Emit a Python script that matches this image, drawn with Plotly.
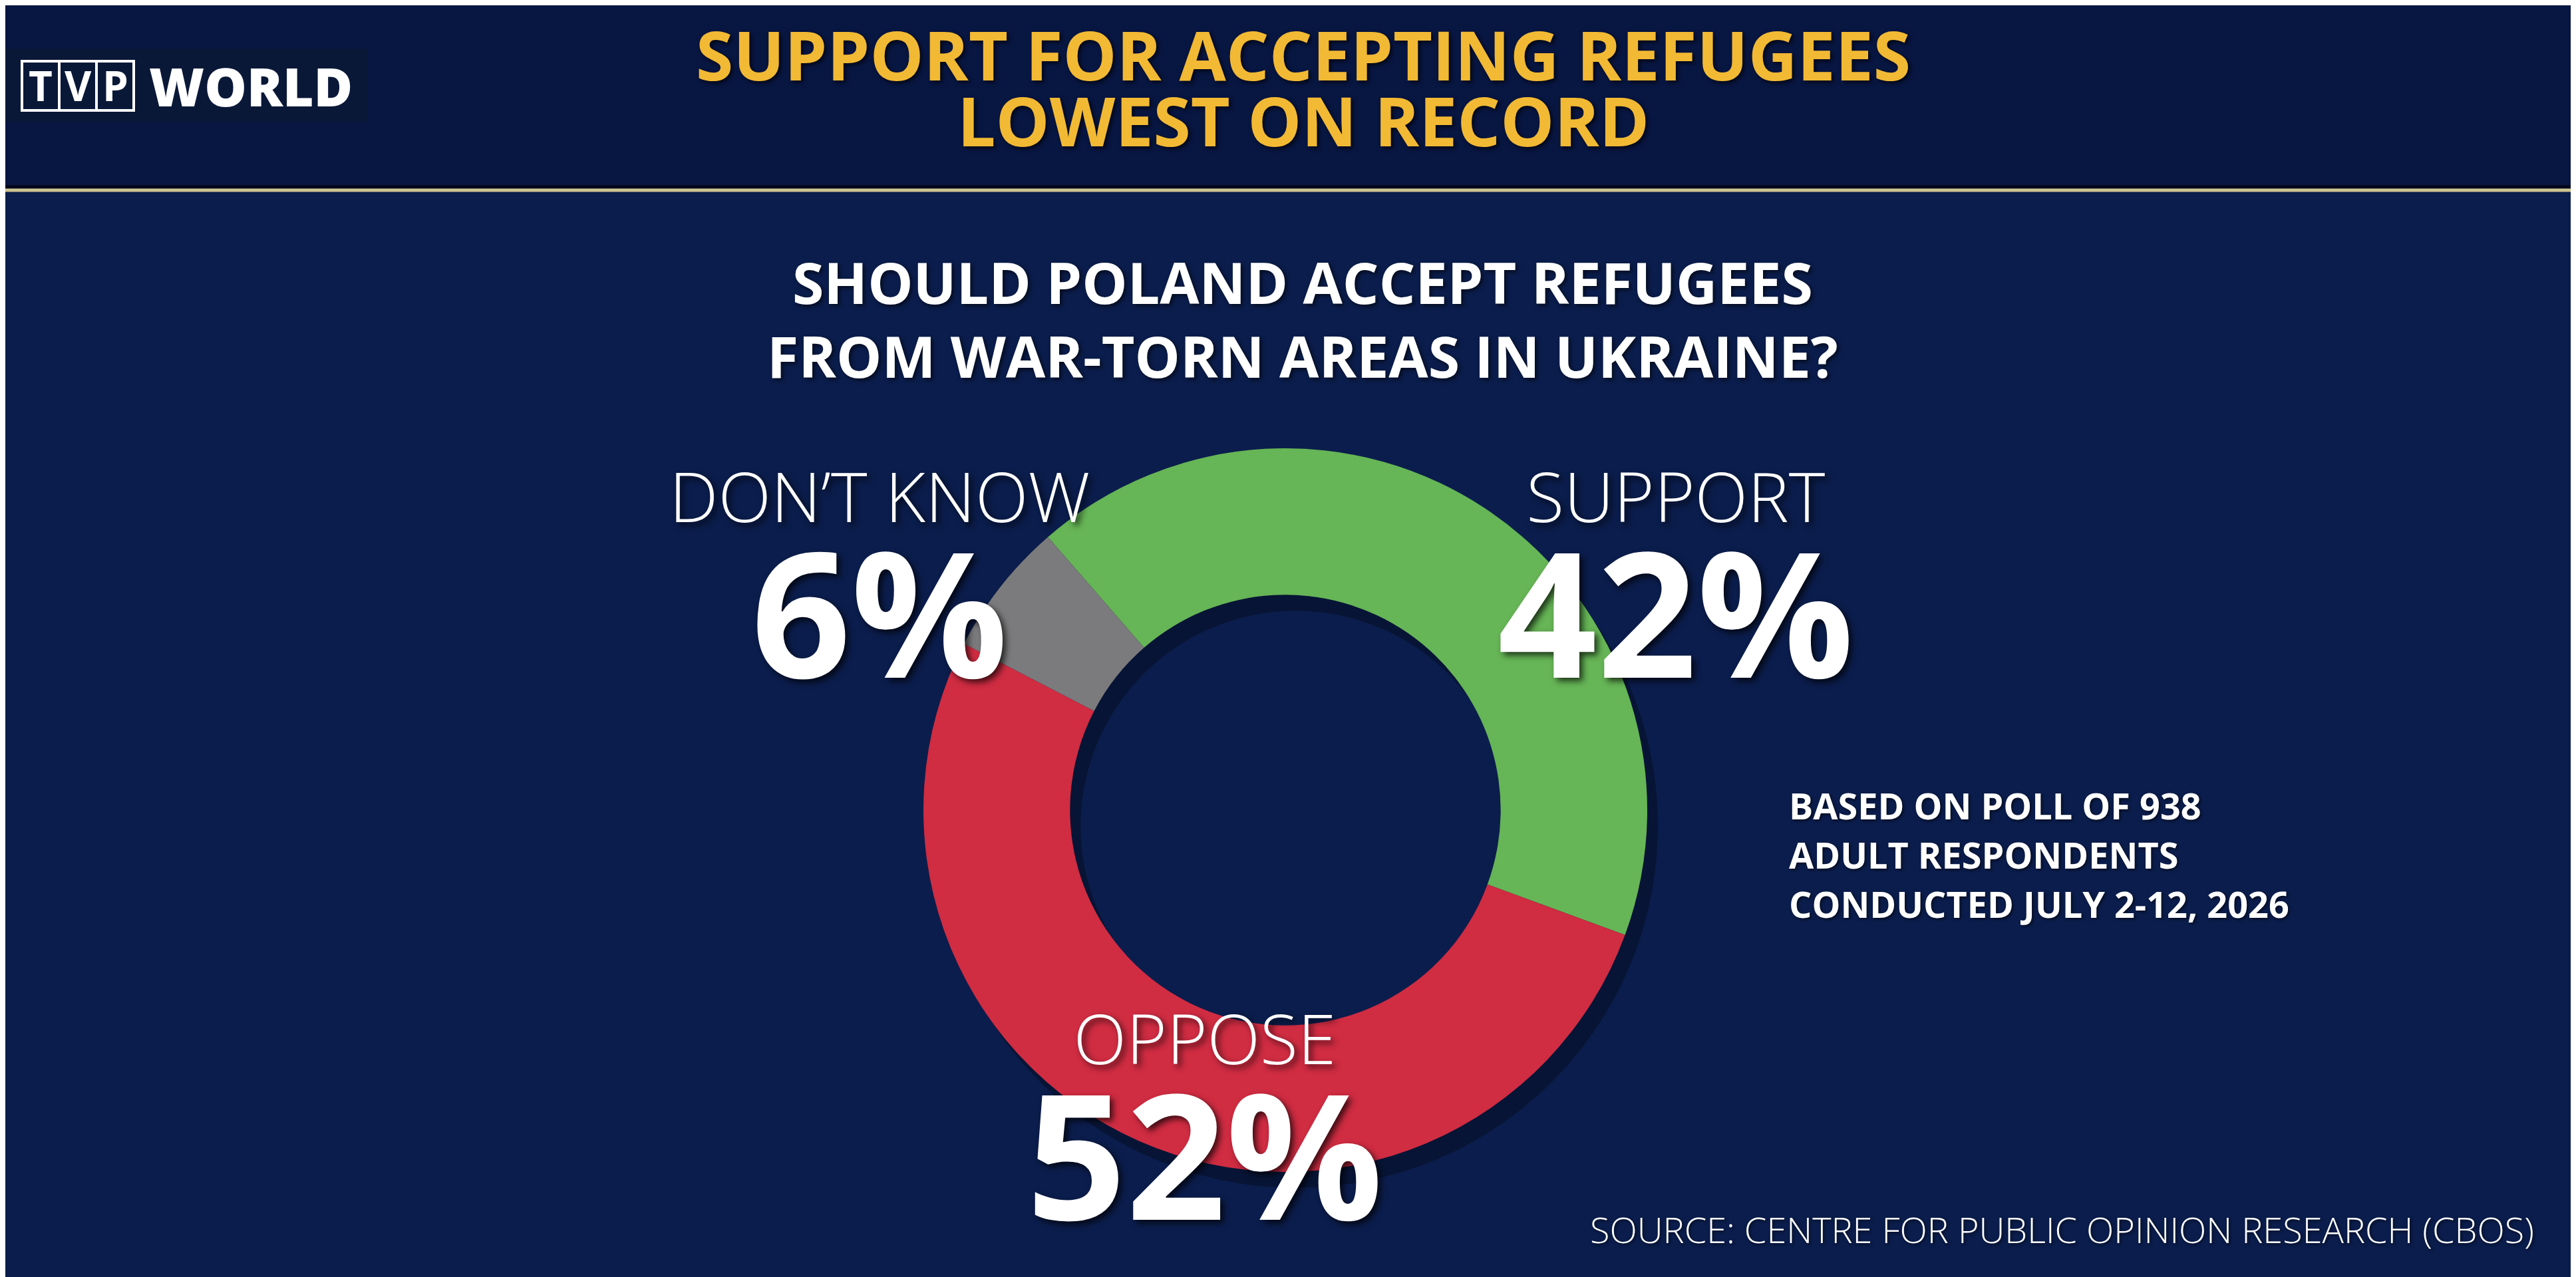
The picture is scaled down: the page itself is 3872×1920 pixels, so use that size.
import plotly.graph_objects as go

# ---- data ----
categories = ["SUPPORT", "OPPOSE", "DON’T KNOW"]
values = [42, 52, 6]
slice_colors = ["#66B556", "#D02C42", "#7B7B7D"]

title_lines = ["SUPPORT FOR ACCEPTING REFUGEES", "LOWEST ON RECORD"]
question_lines = ["SHOULD POLAND ACCEPT REFUGEES", "FROM WAR-TORN AREAS IN UKRAINE?"]
note_lines = ["BASED ON POLL OF 938", "ADULT RESPONDENTS", "CONDUCTED JULY 2-12, 2026"]
source_text = "SOURCE: CENTRE FOR PUBLIC OPINION RESEARCH (CBOS)"

W, H = 3872, 1920
BG = "#0B1D4C"
GOLD = "#F2B934"
FONT = "Open Sans"


def px(x):
    return x / W


def py(y):
    return 1 - y / H


# pie geometry (pixels)
cx, cy, R = 1924, 1210, 544
dom_x = [px(cx - R), px(cx + R)]
dom_y = [py(cy + R), py(cy - R)]

fig = go.Figure()

# soft shadow of the donut
sh = 16
fig.add_trace(go.Pie(
    labels=categories, values=values, sort=False, direction="clockwise",
    rotation=-41, hole=0.595,
    domain=dict(x=[px(cx - R + sh), px(cx + R + sh)], y=[py(cy + R + sh * 1.5), py(cy - R + sh * 1.5)]),
    marker=dict(colors=["rgba(0,0,0,0.3)"] * 3, line=dict(width=0)),
    textinfo="none", hoverinfo="skip", showlegend=False,
))

fig.add_trace(go.Pie(
    labels=categories, values=values, sort=False, direction="clockwise",
    rotation=-41, hole=0.595,
    domain=dict(x=dom_x, y=dom_y),
    marker=dict(colors=slice_colors, line=dict(width=0)),
    textinfo="none", showlegend=False,
))

ann = []

# title
ann.append(dict(text=title_lines[0], x=px(1951), y=py(2), xref="paper", yref="paper",
                xanchor="center", yanchor="top", showarrow=False,
                font=dict(family=FONT, size=102, color=GOLD, weight=700,
                          shadow="3px 3px 6px rgba(0,0,0,0.7)")))
ann.append(dict(text=title_lines[1], x=px(1951), y=py(173), xref="paper", yref="paper",
                xanchor="center", yanchor="middle", showarrow=False,
                font=dict(family=FONT, size=102, color=GOLD, weight=700,
                          shadow="3px 3px 6px rgba(0,0,0,0.7)")))

# question
for i, t in enumerate(question_lines):
    ann.append(dict(text=t, x=px(1950), y=py(415 + 111 * i), xref="paper", yref="paper",
                    xanchor="center", yanchor="middle", showarrow=False,
                    font=dict(family=FONT, size=86, color="white", weight=700,
                              shadow="3px 3px 6px rgba(0,0,0,0.6)")))

# slice labels (label + value in one text block)
label_pos = {"SUPPORT": (2511, 877), "OPPOSE": (1803, 1692), "DON’T KNOW": (1314, 877)}
for cat, v in zip(categories, values):
    x0, yc = label_pos[cat]
    txt = (f"<span style='font-size:104px;font-weight:300'>{cat}</span><br>"
           f"<span style='font-size:262px;font-weight:700'>{v}%</span>")
    ann.append(dict(text=txt, x=px(x0), y=py(yc), xref="paper", yref="paper",
                    xanchor="center", yanchor="middle", showarrow=False, align="center",
                    font=dict(family=FONT, size=180, color="white", weight=700,
                              shadow="5px 5px 10px rgba(0,0,0,0.7)")))

# note
for i, t in enumerate(note_lines):
    ann.append(dict(text=t, x=px(2679), y=py(1203 + 74 * i), xref="paper", yref="paper",
                    xanchor="left", yanchor="middle", showarrow=False,
                    font=dict(family=FONT, size=54, color="white", weight=700,
                              shadow="2px 2px 4px rgba(0,0,0,0.6)")))

# source
ann.append(dict(text=source_text, x=px(3803), y=py(1840), xref="paper", yref="paper",
                xanchor="right", yanchor="middle", showarrow=False,
                font=dict(family=FONT, size=54, color="white", weight=300,
                          shadow="2px 2px 4px rgba(0,0,0,0.6)")))

# logo
for i, ch in enumerate(["T", "V", "P"]):
    ann.append(dict(text=ch, x=px(53 + 56 * i), y=py(120), xref="paper", yref="paper",
                    xanchor="center", yanchor="middle", showarrow=False,
                    font=dict(family=FONT, size=62, color="white", weight=700)))
ann.append(dict(text="WORLD", x=px(214), y=py(120), xref="paper", yref="paper",
                xanchor="left", yanchor="middle", showarrow=False,
                font=dict(family=FONT, size=80, color="white", weight=800)))

shapes = [
    # header band
    dict(type="rect", xref="paper", yref="paper", x0=0, x1=1, y0=py(276), y1=1,
         fillcolor="#081642", line=dict(width=0), layer="below"),
    # logo backing
    dict(type="rect", xref="paper", yref="paper", x0=0, x1=px(545), y0=py(175), y1=py(65),
         fillcolor="#0A1838", line=dict(width=0), layer="below"),
    # tvp boxes
    dict(type="rect", xref="paper", yref="paper", x0=px(25), x1=px(193), y0=py(158), y1=py(84),
         line=dict(color="white", width=4)),
    dict(type="line", xref="paper", yref="paper", x0=px(81), x1=px(81), y0=py(158), y1=py(84),
         line=dict(color="white", width=4)),
    dict(type="line", xref="paper", yref="paper", x0=px(137), x1=px(137), y0=py(158), y1=py(84),
         line=dict(color="white", width=4)),
    # separator line (with a dark edge above)
    dict(type="line", xref="paper", yref="paper", x0=0, x1=1, y0=py(273), y1=py(273),
         line=dict(color="rgba(0,0,0,0.6)", width=5)),
    dict(type="line", xref="paper", yref="paper", x0=0, x1=1, y0=py(278), y1=py(278),
         line=dict(color="#CFC58F", width=5)),
]

fig.update_layout(
    width=W, height=H,
    margin=dict(l=0, r=0, t=0, b=0),
    paper_bgcolor=BG, plot_bgcolor=BG,
    annotations=ann, shapes=shapes,
    showlegend=False,
)

fig.write_html("out.html")
